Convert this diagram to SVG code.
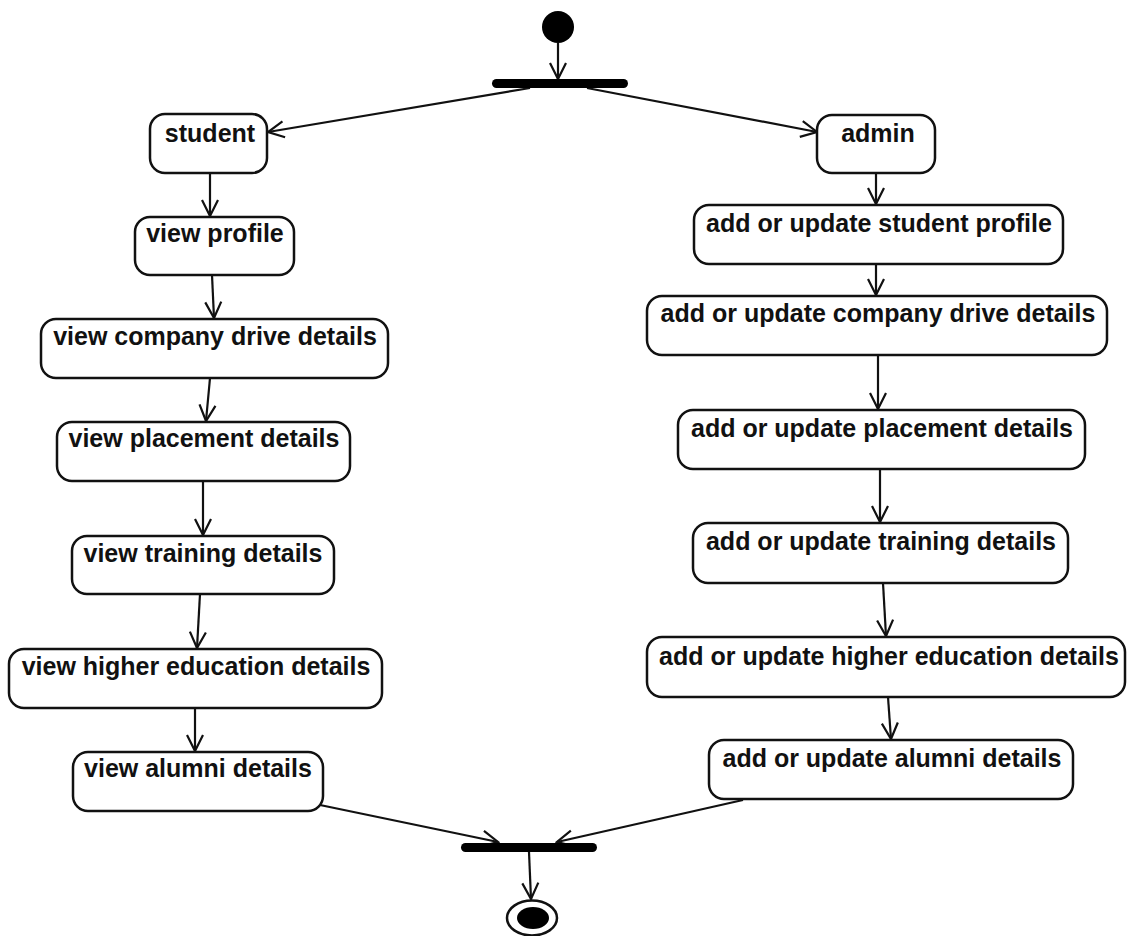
<svg xmlns="http://www.w3.org/2000/svg" width="1127" height="936" viewBox="0 0 1127 936">
<defs>
<style>
.box{fill:#fff;stroke:#111;stroke-width:2.5}
.lbl{font-family:"Liberation Sans",Arial,sans-serif;font-weight:bold;font-size:25px;fill:#111;text-anchor:middle}
.edge{fill:none;stroke:#111;stroke-width:2.2;marker-end:url(#arr)}
.bar{fill:#000}
</style>
<marker id="arr" markerUnits="userSpaceOnUse" markerWidth="20" markerHeight="20" refX="16" refY="8" orient="auto" viewBox="-2 -2 20 20">
<path d="M0,0 L16,8 L0,16" fill="none" stroke="#111" stroke-width="2.2"/>
</marker>
</defs>
<rect width="1127" height="936" fill="#fff"/>

<g id="connectors">
<line class="edge" x1="558" y1="43" x2="558" y2="79"/>
<line class="edge" x1="530" y1="88" x2="268" y2="132"/>
<line class="edge" x1="587" y1="88" x2="817" y2="132"/>
<line class="edge" x1="210" y1="173" x2="210" y2="216"/>
<line class="edge" x1="212" y1="275" x2="214" y2="318"/>
<line class="edge" x1="210" y1="378" x2="206" y2="421"/>
<line class="edge" x1="203" y1="481" x2="203" y2="535"/>
<line class="edge" x1="200" y1="594" x2="197" y2="648"/>
<line class="edge" x1="195" y1="708" x2="195" y2="751"/>
<line class="edge" x1="320" y1="805" x2="498" y2="842"/>
<line class="edge" x1="876" y1="173" x2="876" y2="204"/>
<line class="edge" x1="876" y1="264" x2="876" y2="295"/>
<line class="edge" x1="878" y1="355" x2="878" y2="409"/>
<line class="edge" x1="880" y1="469" x2="880" y2="522"/>
<line class="edge" x1="883" y1="583" x2="886" y2="636"/>
<line class="edge" x1="888" y1="697" x2="891" y2="739"/>
<line class="edge" x1="743" y1="800" x2="557" y2="842"/>
<line class="edge" x1="529" y1="852" x2="531" y2="899"/>
</g>

<g id="start"><circle cx="558" cy="27" r="16" fill="#000"/></g>
<g id="fork"><rect class="bar" x="492" y="79" width="136" height="9" rx="4.5"/></g>
<g id="join"><rect class="bar" x="461" y="843" width="136" height="9" rx="4.5"/></g>
<g id="end">
<ellipse cx="532" cy="918" rx="25" ry="17.5" fill="#fff" stroke="#111" stroke-width="2.5"/>
<ellipse cx="533" cy="918" rx="16" ry="11" fill="#000"/>
</g>

<g id="student"><rect class="box" x="150" y="114" width="117" height="59" rx="15"/><text class="lbl" x="210" y="142">student</text></g>
<g id="view-profile"><rect class="box" x="135" y="217" width="159" height="58" rx="15"/><text class="lbl" x="215" y="242">view profile</text></g>
<g id="view-company"><rect class="box" x="41" y="319" width="347" height="59" rx="15"/><text class="lbl" x="215" y="345">view company drive details</text></g>
<g id="view-placement"><rect class="box" x="57" y="422" width="293" height="59" rx="15"/><text class="lbl" x="204" y="447">view placement details</text></g>
<g id="view-training"><rect class="box" x="72" y="536" width="262" height="58" rx="15"/><text class="lbl" x="203" y="562">view training details</text></g>
<g id="view-higher"><rect class="box" x="9" y="649" width="373" height="59" rx="15"/><text class="lbl" x="196" y="675">view higher education details</text></g>
<g id="view-alumni"><rect class="box" x="73" y="752" width="250" height="59" rx="15"/><text class="lbl" x="198" y="777">view alumni details</text></g>

<g id="admin"><rect class="box" x="817" y="115" width="118" height="58" rx="15"/><text class="lbl" x="878" y="142">admin</text></g>
<g id="add-profile"><rect class="box" x="694" y="205" width="369" height="59" rx="15"/><text class="lbl" x="879" y="232">add or update student profile</text></g>
<g id="add-company"><rect class="box" x="647" y="296" width="460" height="59" rx="15"/><text class="lbl" x="878" y="322">add or update company drive details</text></g>
<g id="add-placement"><rect class="box" x="678" y="410" width="407" height="59" rx="15"/><text class="lbl" x="882" y="437">add or update placement details</text></g>
<g id="add-training"><rect class="box" x="693" y="523" width="375" height="60" rx="15"/><text class="lbl" x="881" y="550">add or update training details</text></g>
<g id="add-higher"><rect class="box" x="647" y="637" width="478" height="60" rx="15"/><text class="lbl" x="889" y="665">add or update higher education details</text></g>
<g id="add-alumni"><rect class="box" x="709" y="740" width="364" height="59" rx="15"/><text class="lbl" x="892" y="767">add or update alumni details</text></g>
</svg>
